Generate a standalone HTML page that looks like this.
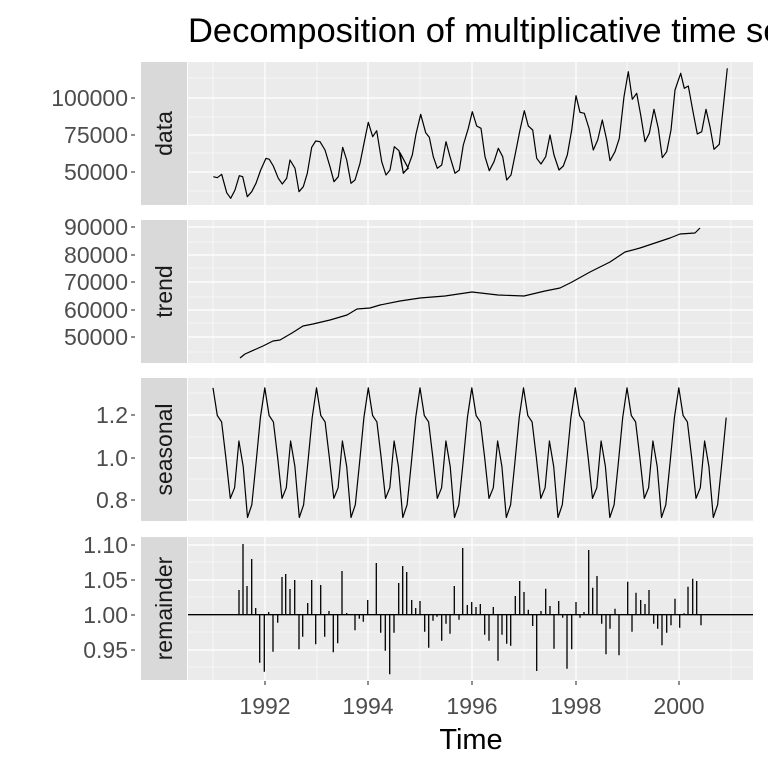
<!DOCTYPE html>
<html><head><meta charset="utf-8"><style>
html,body{margin:0;padding:0;background:#fff;width:768px;height:768px;overflow:hidden}
svg{display:block;font-family:"Liberation Sans",Arial,sans-serif}
</style></head><body>
<svg id="s" width="768" height="768" viewBox="0 0 768 768" xmlns="http://www.w3.org/2000/svg">
<text x="188" y="42" font-size="34.5" fill="#000">Decomposition of multiplicative time series</text>
<text x="471" y="749" font-size="29" fill="#000" text-anchor="middle">Time</text>
</svg>
<script>
var S=document.getElementById('s'),NS='http://www.w3.org/2000/svg';
function el(t,a,txt){var e=document.createElementNS(NS,t);for(var k in a)e.setAttribute(k,a[k]);if(txt!=null)e.textContent=txt;S.appendChild(e);return e;}
var panels=[
 {y0:62,y1:205,name:'data',maj:[[98,'100000'],[135,'75000'],[172,'50000']],min:[78,117,153,191]},
 {y0:220,y1:363,name:'trend',maj:[[227,'90000'],[255,'80000'],[282,'70000'],[310,'60000'],[337,'50000']],min:[242,268,297,323,352]},
 {y0:378,y1:521,name:'seasonal',maj:[[415,'1.2'],[458,'1.0'],[500,'0.8']],min:[393,437,479,521]},
 {y0:537,y1:680,name:'remainder',maj:[[545,'1.10'],[580,'1.05'],[615,'1.00'],[650,'0.95']],min:[562,597,632,667]}
];
var vmaj=[265,368,472,576,679],vmin=[213,317,420,524,627,731];
panels.forEach(function(p){
 el('rect',{x:141,y:p.y0,width:46,height:p.y1-p.y0,fill:'#d9d9d9'});
 el('rect',{x:188,y:p.y0,width:565,height:p.y1-p.y0,fill:'#ebebeb'});
 p.min.forEach(function(y){el('line',{x1:188,x2:753,y1:y,y2:y,stroke:'#fff','stroke-width':0.6});});
 vmin.forEach(function(x){el('line',{x1:x,x2:x,y1:p.y0,y2:p.y1,stroke:'#fff','stroke-width':0.6});});
 p.maj.forEach(function(m){el('line',{x1:188,x2:753,y1:m[0],y2:m[0],stroke:'#fff','stroke-width':1.2});
  el('line',{x1:131,x2:135,y1:m[0],y2:m[0],stroke:'#333','stroke-width':1.1});
  el('text',{x:128,y:m[0]+8,'font-size':23,fill:'#4d4d4d','text-anchor':'end'},m[1]);});
 vmaj.forEach(function(x){el('line',{x1:x,x2:x,y1:p.y0,y2:p.y1,stroke:'#fff','stroke-width':1.2});});
 var cy=(p.y0+p.y1)/2;
 el('text',{x:0,y:0,'font-size':23,fill:'#1a1a1a','text-anchor':'middle',transform:'translate(172,'+cy+') rotate(-90)'},p.name);
});
['1992','1994','1996','1998','2000'].forEach(function(t,i){
 el('line',{x1:vmaj[i],x2:vmaj[i],y1:681,y2:685,stroke:'#333','stroke-width':1.1});
 el('text',{x:vmaj[i],y:714,'font-size':23,fill:'#4d4d4d','text-anchor':'middle'},t);
});
function poly(pts){el('polyline',{points:pts.map(function(q){return q[0].toFixed(1)+','+q[1].toFixed(1)}).join(' '),fill:'none',stroke:'#000','stroke-width':1.2,'stroke-linejoin':'round'});}
var d6=[[40,350],[52,353],[65,343],[80,398],[92,415],[105,390],[118,347],[128,350],[142,410],[155,395],[168,370],[182,330],[198,295],[208,298],[220,318],[235,355],[247,372],[260,355],[270,300],[285,325],[297,395],[310,380],[322,340],[335,262],[347,243],[360,245],[375,270],[390,320],[402,365],[415,350],[428,262],[440,300],[453,370],[465,360],[480,310],[492,250],[505,187],[518,230],[530,212],[545,305],[558,345],[570,330],[583,260],[597,272],[610,338],[625,325]];
var d4=[[0,278],[10,340],[22,326],[37,285],[48,222],[62,163],[77,218],[88,232],[100,290],[112,325],[125,315],[138,245],[150,290],[165,340],[178,330],[190,255],[205,205],[217,155],[230,198],[243,205],[255,290],[268,332],[282,305],[295,265],[308,290],[320,360],[333,345],[347,275],[360,210],[373,152],[385,198],[398,210],[410,295],[423,312],[437,290],[450,225],[462,285],[477,330],[490,318],[502,285],[515,210],[528,107],[540,157],[553,160],[567,205],[580,270],[593,240],[607,180],[620,240],[630,302],[645,275],[658,235],[672,110],[685,35],[697,118],[710,100],[722,165],[735,245],[748,220],[762,148],[775,205],[787,293],[800,275],[813,210],[825,90],[842,40],[853,85],[865,78],[880,160],[892,222],[905,215],[918,148],[930,200],[942,268],[958,253],[970,140],[982,25]];
poly(d6.map(function(q){return [200+q[0]/3,60+q[1]/3]}).concat(d4.map(function(q){return [400+q[0]/3,60+q[1]/3]})));
poly([[240,358],[245,354],[263,346],[273,341],[280,340],[292,333],[303,326],[313,324],[330,320],[347,315],[357,309],[370,308],[380,305],[400,301],[420,298],[445,296],[472,292],[498,295],[524,296],[545,291],[560,288],[572,282],[590,272],[610,262],[625,252],[640,248],[655,243],[670,238],[680,234],[695,233],[700,228]]);
var sv=[1.33,1.20,1.17,1.0,0.81,0.86,1.08,0.96,0.72,0.78,0.98,1.19],sp=[];
for(var i=0;i<120;i++){sp.push([213+i*51.75/12,458-(sv[i%12]-1)*212.5]);}
poly(sp);
var r2=[[327,210],[339,72],[351,198],[365,117],[377,264],[389,428],[403,455],[416,276],[429,395],[443,308],[456,171],[467,162],[480,207],[494,180],[507,388],[518,350],[533,249],[545,180],[557,373],[572,195],[584,350],[597,273],[610,397],[623,370],[636,153],[650,279],[675,331],[688,296],[700,305],[713,240],[739,129],[752,338],[766,392],[779,463],[792,338],[806,189],[818,138],[830,156],[845,240],[857,264],[870,243],[884,335],[896,383],[909,302],[921,290],[935,362],[948,311],[960,341],[973,198],[987,299],[998,84],[1012,255],[1025,246],[1038,261],[1051,252],[1064,344],[1077,362],[1090,261],[1104,422],[1116,344],[1130,371],[1142,377],[1156,228],[1169,183],[1182,216],[1195,269]];
var r5=[[38,270],[50,405],[63,225],[77,158],[90,210],[102,338],[116,195],[128,245],[141,398],[155,340],[168,198],[180,245],[192,228],[206,42],[218,155],[231,120],[245,263],[258,355],[270,278],[285,218],[297,358],[323,137],[336,287],[348,170],[362,192],[375,204],[387,162],[401,263],[413,278],[426,328],[440,290],[453,268],[465,188],[479,275],[492,232],[504,152],[518,128],[530,135],[543,268]];
var bp='';
r2.forEach(function(q){bp+='M'+(130+q[0]/3).toFixed(1)+',614.7V'+(520+q[1]/3).toFixed(1);});
r5.forEach(function(q){bp+='M'+(520+q[0]/3).toFixed(1)+',614.7V'+(536+q[1]/3).toFixed(1);});
el('path',{d:bp,stroke:'#000','stroke-width':1.3,fill:'none'});
el('line',{x1:188,x2:753,y1:614.7,y2:614.7,stroke:'#000','stroke-width':1.3});
</script>
</body></html>
